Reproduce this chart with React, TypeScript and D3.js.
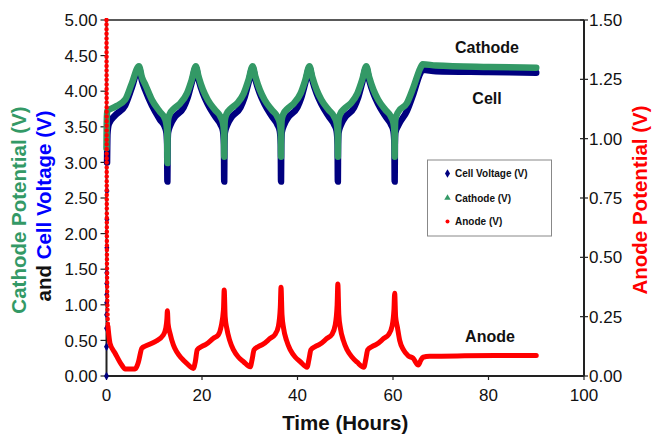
import React from "react";
import * as d3 from "d3";

type P = [number, number];

const xTicks = [0, 20, 40, 60, 80, 100];
const leftTicks = [0, 0.5, 1, 1.5, 2, 2.5, 3, 3.5, 4, 4.5, 5];
const rightTicks = [0, 0.25, 0.5, 0.75, 1, 1.25, 1.5];

const cellVoltage: P[] = [
  [0, 0], [0.01, 0.41], [0.02, 0.67], [0.03, 0.86], [0.04, 1.03], [0.05, 1.14], [0.06, 1.3], [0.07, 1.45],
  [0.08, 1.8], [0.09, 2.2], [0.1, 2.6], [0.12, 3.0], [0.2, 3.4], [0.5, 3.54], [1.8, 3.66], [3.9, 3.8], [5.3, 4.05], [6.8, 4.33],
  [7.4, 4.15], [8.2, 4.0], [9.5, 3.8], [11.2, 3.6], [12.2, 3.5], [12.55, 3.42], [12.7, 3.25], [12.75, 2.73],
  [12.8, 3.25], [12.9, 3.42], [13.35, 3.52], [14.35, 3.64], [16.15, 3.77], [16.95, 3.9], [17.85, 4.12], [18.7, 4.33],
  [19.3, 4.16], [20.2, 3.97], [21.2, 3.82], [22.7, 3.65], [23.9, 3.53], [24.4, 3.44], [24.6, 3.25], [24.65, 2.73],
  [24.7, 3.25], [24.8, 3.42], [25.25, 3.52], [26.25, 3.64], [28.05, 3.77], [28.85, 3.9], [29.75, 4.12], [30.6, 4.33],
  [31.2, 4.16], [32.1, 3.97], [33.1, 3.82], [34.6, 3.65], [35.8, 3.53], [36.3, 3.44], [36.5, 3.25], [36.55, 2.73],
  [36.6, 3.25], [36.7, 3.42], [37.15, 3.52], [38.15, 3.64], [39.95, 3.77], [40.75, 3.9], [41.65, 4.12], [42.5, 4.33],
  [43.1, 4.16], [44.0, 3.97], [45.0, 3.82], [46.5, 3.65], [47.7, 3.53], [48.2, 3.44], [48.4, 3.25], [48.45, 2.73],
  [48.5, 3.25], [48.6, 3.42], [49.05, 3.52], [50.05, 3.64], [51.85, 3.77], [52.65, 3.9], [53.55, 4.12], [54.4, 4.33],
  [55.0, 4.16], [55.9, 3.97], [56.9, 3.82], [58.4, 3.65], [59.6, 3.53], [60.1, 3.44], [60.3, 3.25], [60.35, 2.73],
  [60.4, 3.25], [60.5, 3.42], [61.1, 3.52], [62.9, 3.72], [64.3, 3.97], [65.7, 4.25], [66.2, 4.3],
  [69, 4.28], [80, 4.27], [90, 4.26],
];

const cathode: P[] = [
  [0, 3.2], [0.05, 3.55], [0.1, 3.72], [1.8, 3.78], [3.9, 3.88], [5.3, 4.11], [6.8, 4.35],
  [7.4, 4.2], [8.2, 4.08], [9.5, 3.88], [11.2, 3.71], [12.2, 3.62], [12.55, 3.53], [12.7, 3.42], [12.75, 2.99],
  [12.8, 3.45], [12.9, 3.6], [13.25, 3.68], [14.05, 3.75], [15.45, 3.83], [16.85, 3.97], [17.85, 4.16], [18.7, 4.35],
  [19.3, 4.2], [20.2, 4.02], [21.2, 3.88], [22.7, 3.74], [23.9, 3.64], [24.4, 3.55], [24.6, 3.42], [24.65, 3.08],
  [24.7, 3.45], [24.8, 3.6], [25.15, 3.68], [25.95, 3.75], [27.35, 3.83], [28.75, 3.97], [29.75, 4.16], [30.6, 4.35],
  [31.2, 4.2], [32.1, 4.02], [33.1, 3.88], [34.6, 3.74], [35.8, 3.64], [36.3, 3.55], [36.5, 3.42], [36.55, 3.08],
  [36.6, 3.45], [36.7, 3.6], [37.05, 3.68], [37.85, 3.75], [39.25, 3.83], [40.65, 3.97], [41.65, 4.16], [42.5, 4.35],
  [43.1, 4.2], [44.0, 4.02], [45.0, 3.88], [46.5, 3.74], [47.7, 3.64], [48.2, 3.55], [48.4, 3.42], [48.45, 3.08],
  [48.5, 3.45], [48.6, 3.6], [48.95, 3.68], [49.75, 3.75], [51.15, 3.83], [52.55, 3.97], [53.55, 4.16], [54.4, 4.35],
  [55.0, 4.2], [55.9, 4.02], [56.9, 3.88], [58.4, 3.74], [59.6, 3.64], [60.1, 3.55], [60.3, 3.42], [60.35, 3.08],
  [60.4, 3.45], [60.5, 3.6], [61.1, 3.71], [62.9, 3.83], [64.3, 4.06], [65.7, 4.32], [66.2, 4.38],
  [69, 4.36], [80, 4.34], [90, 4.33],
];

const anode: P[] = [
  [0, 1.5], [0.02, 1.2], [0.04, 0.9], [0.06, 0.7], [0.09, 0.5], [0.13, 0.38], [0.2, 0.28], [0.3, 0.21],
  [0.5, 0.17], [0.73, 0.138], [1.8, 0.096], [3.2, 0.046], [3.9, 0.03], [6.0, 0.03], [6.7, 0.06], [7.4, 0.117],
  [8.1, 0.126], [10.2, 0.145], [11.9, 0.173], [12.4, 0.2], [12.65, 0.24], [12.75, 0.275],
  [12.9, 0.22], [13.3, 0.18], [14.0, 0.131], [14.7, 0.102], [15.7, 0.075], [16.8, 0.053], [18.2, 0.032],
  [18.6, 0.06], [19.0, 0.11], [19.9, 0.124], [20.9, 0.134], [22.4, 0.159], [23.4, 0.173], [24.0, 0.208], [24.5, 0.28], [24.65, 0.362],
  [24.85, 0.25], [25.2, 0.2], [25.8, 0.15], [26.6, 0.11], [27.6, 0.08], [28.7, 0.06], [30.1, 0.039],
  [30.5, 0.07], [30.9, 0.11], [31.8, 0.124], [32.8, 0.134], [34.3, 0.159], [35.3, 0.175], [36.0, 0.21], [36.4, 0.29], [36.55, 0.374],
  [36.75, 0.26], [37.1, 0.2], [37.7, 0.15], [38.5, 0.11], [39.5, 0.08], [40.6, 0.06], [42.0, 0.037],
  [42.4, 0.07], [42.8, 0.11], [43.7, 0.124], [44.7, 0.134], [46.2, 0.159], [47.2, 0.175], [47.9, 0.215], [48.3, 0.3], [48.45, 0.388],
  [48.65, 0.26], [49.0, 0.2], [49.6, 0.15], [50.4, 0.11], [51.4, 0.08], [52.5, 0.058], [53.9, 0.037],
  [54.3, 0.07], [54.7, 0.11], [55.6, 0.124], [56.6, 0.134], [58.1, 0.159], [59.1, 0.175], [59.8, 0.21], [60.2, 0.28], [60.35, 0.349],
  [60.55, 0.25], [60.9, 0.208], [61.4, 0.15], [62.2, 0.11], [63.2, 0.085], [64.2, 0.075], [65.3, 0.046],
  [65.8, 0.065], [66.3, 0.079], [67.7, 0.083], [75, 0.085], [85, 0.086], [90, 0.086],
];

const GREEN = "#339966";
const NAVY = "#000080";
const RED = "#ff0000";
const FONT = "Arial, 'Liberation Sans', sans-serif";

export default function App() {
  const W = 653, H = 435;
  const x0 = 106.5, x1 = 584, yTop = 20, yBot = 376;
  const x = d3.scaleLinear().domain([0, 100]).range([x0, x1]);
  const yL = d3.scaleLinear().domain([0, 5]).range([yBot, yTop]);
  const yR = d3.scaleLinear().domain([0, 1.5]).range([yBot, yTop]);

  const lineL = d3.line<P>().x((d) => x(d[0])).y((d) => yL(d[1])).curve(d3.curveMonotoneX);
  const lineR = d3.line<P>().x((d) => x(d[0])).y((d) => yR(d[1])).curve(d3.curveMonotoneX);

  const diamond = d3.symbol().type(d3.symbolDiamond).size(22)() as string;
  const tri = d3.symbol().type(d3.symbolTriangle).size(18)() as string;

  const axisColor = "#222";
  const cx = (x0 + x1) / 2;

  const cellStart = cellVoltage.filter((d) => d[0] <= 0.1);
  const cellMain = cellVoltage.filter((d) => d[0] >= 0.12);
  const anodeStart = anode.filter((d) => d[0] <= 0.3);
  const anodeMain = anode.filter((d) => d[0] >= 0.3);

  return (
    <svg width={W} height={H} style={{ position: "absolute", left: 0, top: 0, background: "#fff" }} fontFamily={FONT}>
      <defs>
        <clipPath id="plotclip">
          <rect x={x0 - 4} y={yTop - 2} width={x1 - x0 + 4} height={yBot - yTop + 6} />
        </clipPath>
      </defs>
      <rect width={W} height={H} fill="#fff" />

      <line x1={x0} x2={x1} y1={yTop} y2={yTop} stroke={axisColor} strokeWidth={1.5} />
      <line x1={x0} x2={x1} y1={yBot} y2={yBot} stroke={axisColor} strokeWidth={2} />
      <line x1={x0} x2={x0} y1={yTop} y2={yBot} stroke={axisColor} strokeWidth={2} />
      <line x1={x1} x2={x1} y1={yTop} y2={yBot} stroke={axisColor} strokeWidth={2} />

      {leftTicks.map((t) => (
        <g key={"l" + t}>
          <line x1={x0 - 6} x2={x0} y1={yL(t)} y2={yL(t)} stroke={axisColor} strokeWidth={1.2} />
          <text x={x0 - 9} y={yL(t)} dy="0.36em" textAnchor="end" fontSize={17} fill="#111">
            {t.toFixed(2)}
          </text>
        </g>
      ))}
      {rightTicks.map((t) => (
        <g key={"r" + t}>
          <line x1={x1 - 4} x2={x1 + 4} y1={yR(t)} y2={yR(t)} stroke={axisColor} strokeWidth={1.2} />
          <text x={x1 + 5} y={yR(t)} dy="0.36em" textAnchor="start" fontSize={17} fill="#111">
            {t.toFixed(2)}
          </text>
        </g>
      ))}
      {xTicks.map((t) => (
        <g key={"x" + t}>
          <line x1={x(t)} x2={x(t)} y1={yBot} y2={yBot + 4} stroke={axisColor} strokeWidth={1.2} />
          <text x={x(t)} y={yBot + 25} textAnchor="middle" fontSize={17} fill="#111">
            {t}
          </text>
        </g>
      ))}

      <g clipPath="url(#plotclip)">
        <path d={lineL(cellMain) || ""} fill="none" stroke={NAVY} strokeWidth={6.5} strokeLinejoin="round" strokeLinecap="round" />
        {cellStart.map((d, i) => (
          <path key={"cd" + i} d={diamond} transform={`translate(${x(d[0])},${yL(d[1])})`} fill={NAVY} />
        ))}
        <path d={lineL(cathode) || ""} fill="none" stroke={GREEN} strokeWidth={6.5} strokeLinejoin="round" strokeLinecap="round" />
        <path d={lineR(anodeStart) || ""} fill="none" stroke={RED} strokeWidth={4.5} strokeLinecap="round" strokeDasharray="0 4.6" />
        <path d={lineR(anodeMain) || ""} fill="none" stroke={RED} strokeWidth={5} strokeLinejoin="round" strokeLinecap="round" />
      </g>

      <text x={487} y={53} textAnchor="middle" fontSize={16} fontWeight="bold" fill="#111">Cathode</text>
      <text x={487} y={104} textAnchor="middle" fontSize={16} fontWeight="bold" fill="#111">Cell</text>
      <text x={490} y={342} textAnchor="middle" fontSize={16} fontWeight="bold" fill="#111">Anode</text>

      <rect x={427.5} y={160} width={124} height={76} fill="#fff" stroke="#888" strokeWidth={1} />
      <path d={diamond} transform="translate(447.5,173.5)" fill={NAVY} />
      <text x={455} y={177} fontSize={10} fontWeight="bold" fill="#111">Cell Voltage (V)</text>
      <path d={tri} transform="translate(447.5,198)" fill={GREEN} />
      <text x={455} y={201.5} fontSize={10} fontWeight="bold" fill="#111">Cathode (V)</text>
      <circle cx={447.5} cy={221.5} r={2} fill={RED} />
      <text x={455} y={225} fontSize={10} fontWeight="bold" fill="#111">Anode (V)</text>

      <text x={cx} y={430} textAnchor="middle" fontSize={20.5} fontWeight="bold" fill="#111">Time (Hours)</text>
      <text transform="translate(26,210) rotate(-90)" textAnchor="middle" fontSize={20.5} fontWeight="bold">
        <tspan fill={GREEN}>Cathode Potential (V)</tspan>
      </text>
      <text transform="translate(51,206) rotate(-90)" textAnchor="middle" fontSize={20.5} fontWeight="bold">
        <tspan fill="#111">and </tspan>
        <tspan fill="#0000ff">Cell Voltage (V)</tspan>
      </text>
      <text transform="translate(647,200) rotate(-90)" textAnchor="middle" fontSize={20.5} fontWeight="bold" fill={RED}>
        Anode Potential (V)
      </text>
    </svg>
  );
}
